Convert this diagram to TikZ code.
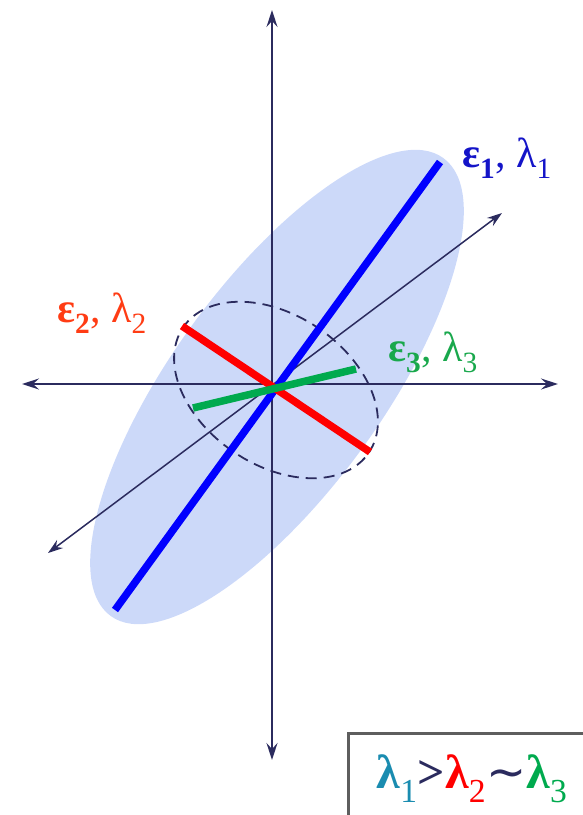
\documentclass[tikz,border=0pt]{standalone}
\usepackage{fontspec}
\setmainfont{Liberation Serif}
\newfontfamily\symfont{DejaVu Sans}
\usetikzlibrary{arrows.meta}
\definecolor{axiscol}{HTML}{2B2B5E}
\definecolor{fillblue}{HTML}{CCD9F9}
\definecolor{lblue}{HTML}{0000FF}
\definecolor{lred}{HTML}{FF0000}
\definecolor{lgreen}{HTML}{00AA4E}
\definecolor{tblue}{HTML}{1414C8}
\definecolor{tred}{HTML}{FF3C14}
\definecolor{tgreen}{HTML}{19A84C}
\definecolor{tteal}{HTML}{1A8CB0}
\definecolor{boxgray}{HTML}{5E5E5E}
\tikzset{
  axisline/.style={draw=axiscol, line width=2pt, {Stealth[length=17pt,width=11pt,inset=6pt]}-{Stealth[length=17pt,width=11pt,inset=6pt]}},
  diagline/.style={draw=axiscol, line width=1.5pt, {Stealth[length=15pt,width=10pt,inset=5pt]}-{Stealth[length=15pt,width=10pt,inset=5pt]}},
  vecline/.style={line width=7.5pt},
  lbl/.style={font=\fontsize{42}{44}\selectfont, inner sep=0pt},
}
\begin{document}
\begin{tikzpicture}[x=1pt,y=-1pt]
\useasboundingbox (0,0) rectangle (582,815);
% big ellipse
\begin{scope}[shift={(277,387)}, rotate=54]
  \fill[fillblue] (0,0) ellipse [x radius=283pt, y radius=105pt];
\end{scope}
% axes
\coordinate (vtop) at (272,10);
\coordinate (vbot) at (272,760);
\coordinate (hleft) at (22,384);
\coordinate (hright) at (558,384);
\coordinate (dlow) at (48,553);
\coordinate (dhigh) at (502,213);
\draw[axisline] (vbot) -- (vtop);
\draw[axisline] (hleft) -- (hright);
\draw[diagline] (dlow) -- (dhigh);
% dashed ellipse
\begin{scope}[shift={(276,390)}, rotate=-34]
  \draw[axiscol, line width=1.8pt, dash pattern=on 11pt off 7pt] (0,0) ellipse [x radius=112pt, y radius=75pt];
\end{scope}
% eigenvectors
\coordinate (b1) at (115,610);
\coordinate (b2) at (440,162);
\coordinate (r1) at (182,326);
\coordinate (r2) at (370,452);
\coordinate (g1) at (193,408);
\coordinate (g2) at (356,369);
\draw[vecline, lblue] (b1) -- (b2);
\draw[vecline, lred] (r1) -- (r2);
\draw[vecline, lgreen] (g1) -- (g2);
% labels
\node[lbl, text=tblue] (L1) at (507,158) {{\bfseries ε\textsubscript{1}}, λ\textsubscript{1}};
\node[lbl, text=tred] (L2) at (102,313) {{\bfseries ε\textsubscript{2}}, λ\textsubscript{2}};
\node[lbl, text=tgreen] (L3) at (433,352) {{\bfseries ε\textsubscript{3}}, λ\textsubscript{3}};
% box
\draw[boxgray, line width=3pt] (348,733) rectangle (620,840);
\node[font=\fontsize{48}{50}\selectfont, inner sep=0pt] (rel) at (472,779)
  {\textcolor{tteal}{\textbf{λ}\textsubscript{1}}\textcolor{axiscol}{\bfseries >}\textcolor{lred}{\textbf{λ}\textsubscript{2}}\textcolor{axiscol}{\symfont ∼}\textcolor{lgreen}{\textbf{λ}\textsubscript{3}}};
\end{tikzpicture}
\end{document}
